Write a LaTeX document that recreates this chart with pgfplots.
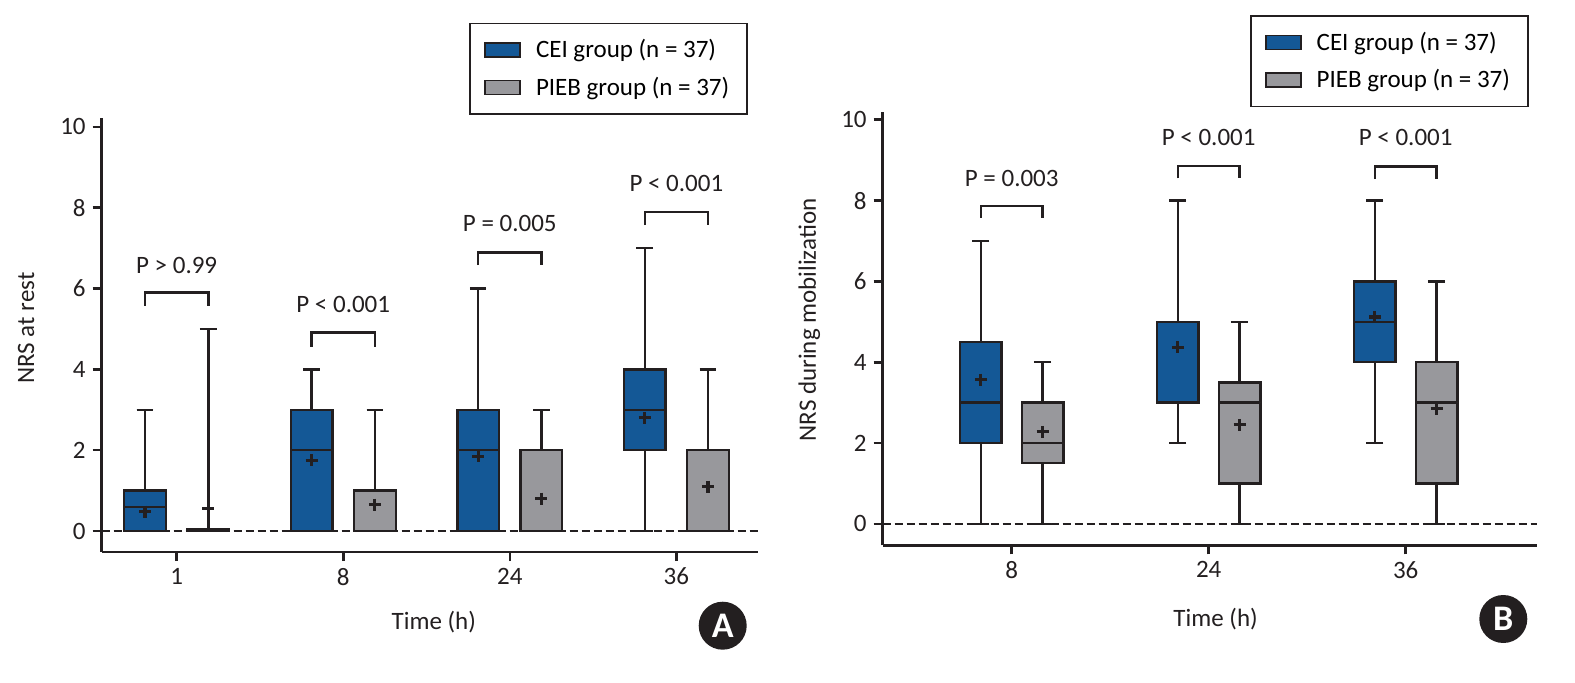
\documentclass[border=0pt]{standalone}
\usepackage{fontspec}
\setmainfont{Carlito}
\usepackage{pgfplots}
\pgfplotsset{compat=1.18}
\usepgfplotslibrary{statistics}
\definecolor{ceiblue}{RGB}{20,88,150}
\definecolor{piebgray}{RGB}{152,152,156}
\definecolor{edge}{RGB}{35,31,32}
\newcommand{\fs}{\fontsize{12.5}{15}\selectfont}
\pgfplotsset{
  ceibox/.style={fill=ceiblue, draw=edge, line width=1.2pt},
  piebbox/.style={fill=piebgray, draw=edge, line width=1.2pt},
  meanmark/.style={only marks, mark=+, mark size=3pt, line width=1.6pt, color=edge},
  panel/.style={
    scale only axis, clip=false,
    boxplot/draw direction=y,
    axis x line*=bottom, axis y line*=left,
    axis line style={-, line width=1.3pt, color=edge},
    tick align=outside, major tick length=4.5pt,
    tick style={line width=1.3pt, color=edge},
    xtick={0,1,2,3}, ytick={0,2,4,6,8,10},
    /pgf/number format/assume math mode=true,
    tick label style={font=\fs, text=edge},
    label style={font=\fs, text=edge},
    legend style={draw=edge, line width=0.9pt, font=\fs, inner xsep=7pt, inner ysep=6pt,
      row sep=4pt, cells={anchor=west}},
    legend image code/.code={\draw[#1, line width=0.9pt] (0pt,-3.5pt) rectangle (17.5pt,3.5pt);\path (23pt,0pt);},
  },
}
\newcommand{\bracket}[4]{% x1 x2 leg top
  \draw[line width=1.2pt, color=edge] (axis cs:#1,#3) -- (axis cs:#1,#4) -- (axis cs:#2,#4) -- (axis cs:#2,#3);}
\begin{document}
\begin{tikzpicture}
\useasboundingbox (0,0) rectangle (787.5pt,341pt);
% ---------------- Panel A ----------------
\begin{axis}[panel,
  at={(50.85pt,65pt)}, anchor=south west,
  width=328.15pt, height=217pt,
  xmin=-0.45, xmax=3.49, ymin=-0.52, ymax=10.22,
  xticklabels={1,8,24,36},
  xlabel={Time (h)}, ylabel={NRS at rest},
  xlabel style={at={(axis description cs:0.506,-0.161)}, anchor=center},
  ylabel style={at={(axis description cs:-0.1153,0.516)}, anchor=center},
  legend style={at={(0.985,1.2196)}, anchor=north east},
]
\addplot[dashed, dash pattern=on 4pt off 2pt, line width=0.8pt, color=edge, forget plot] coordinates {(-0.45,0) (3.49,0)};
\addlegendimage{fill=ceiblue, draw=edge}
\addlegendentry{CEI group (n = 37)}
\addlegendimage{fill=piebgray, draw=edge}
\addlegendentry{PIEB group (n = 37)}
% CEI
\addplot[ceibox, forget plot, boxplot prepared={draw position=-0.19, lower whisker=0, lower quartile=0, median=0.6, upper quartile=1, upper whisker=3, box extend=0.25, whisker extend=0.1}] coordinates {};
\addplot[ceibox, forget plot, boxplot prepared={draw position=0.81, lower whisker=0, lower quartile=0, median=2, upper quartile=3, upper whisker=4, box extend=0.25, whisker extend=0.1}] coordinates {};
\addplot[ceibox, forget plot, boxplot prepared={draw position=1.81, lower whisker=0, lower quartile=0, median=2, upper quartile=3, upper whisker=6, box extend=0.25, whisker extend=0.1}] coordinates {};
\addplot[ceibox, forget plot, boxplot prepared={draw position=2.81, lower whisker=0, lower quartile=2, median=3, upper quartile=4, upper whisker=7, box extend=0.25, whisker extend=0.1}] coordinates {};
% PIEB
\addplot[piebbox, forget plot, boxplot prepared={draw position=0.19, lower whisker=0, lower quartile=0, median=0, upper quartile=0.05, upper whisker=5, box extend=0.25, whisker extend=0.1}] coordinates {};
\addplot[piebbox, forget plot, boxplot prepared={draw position=1.19, lower whisker=0, lower quartile=0, median=0, upper quartile=1, upper whisker=3, box extend=0.25, whisker extend=0.1}] coordinates {};
\addplot[piebbox, forget plot, boxplot prepared={draw position=2.19, lower whisker=0, lower quartile=0, median=0, upper quartile=2, upper whisker=3, box extend=0.25, whisker extend=0.1}] coordinates {};
\addplot[piebbox, forget plot, boxplot prepared={draw position=3.19, lower whisker=0, lower quartile=0, median=0, upper quartile=2, upper whisker=4, box extend=0.25, whisker extend=0.1}] coordinates {};
% means
\addplot[meanmark, forget plot] coordinates {(-0.19,0.48) (0.81,1.75) (1.81,1.85) (2.81,2.8)};
\addplot[meanmark, forget plot] coordinates {(0.19,0.55) (1.19,0.65) (2.19,0.8) (3.19,1.1)};
% brackets
\bracket{-0.19}{0.19}{5.57}{5.9}
\bracket{0.81}{1.19}{4.56}{4.91}
\bracket{1.81}{2.19}{6.58}{6.89}
\bracket{2.81}{3.19}{7.57}{7.9}
\node[font=\fs, text=edge] at (axis cs:0,6.58) {P > 0.99};
\node[font=\fs, text=edge] at (axis cs:1,5.6) {P < 0.001};
\node[font=\fs, text=edge] at (axis cs:2,7.6) {P = 0.005};
\node[font=\fs, text=edge] at (axis cs:3,8.6) {P < 0.001};
\end{axis}
% ---------------- Panel B ----------------
\begin{axis}[panel,
  at={(441.35pt,68.35pt)}, anchor=south west,
  width=327pt, height=216.8pt,
  xmin=-0.655, xmax=2.665, ymin=-0.53, ymax=10.2,
  xtick={0,1,2}, xticklabels={8,24,36},
  xlabel={Time (h)}, ylabel={NRS during mobilization},
  xlabel style={at={(axis description cs:0.509,-0.1707)}, anchor=center},
  ylabel style={at={(axis description cs:-0.112,0.52)}, anchor=center},
  legend style={at={(0.988,1.223)}, anchor=north east},
]
\addplot[dashed, dash pattern=on 4pt off 2pt, line width=0.8pt, color=edge, forget plot] coordinates {(-0.655,0) (2.665,0)};
\addlegendimage{fill=ceiblue, draw=edge}
\addlegendentry{CEI group (n = 37)}
\addlegendimage{fill=piebgray, draw=edge}
\addlegendentry{PIEB group (n = 37)}
% CEI
\addplot[ceibox, forget plot, boxplot prepared={draw position=-0.157, lower whisker=0, lower quartile=2, median=3, upper quartile=4.5, upper whisker=7, box extend=0.21, whisker extend=0.088}] coordinates {};
\addplot[ceibox, forget plot, boxplot prepared={draw position=0.843, lower whisker=2, lower quartile=3, median=5, upper quartile=5, upper whisker=8, box extend=0.21, whisker extend=0.088}] coordinates {};
\addplot[ceibox, forget plot, boxplot prepared={draw position=1.843, lower whisker=2, lower quartile=4, median=5, upper quartile=6, upper whisker=8, box extend=0.21, whisker extend=0.088}] coordinates {};
% PIEB
\addplot[piebbox, forget plot, boxplot prepared={draw position=0.157, lower whisker=0, lower quartile=1.5, median=2, upper quartile=3, upper whisker=4, box extend=0.21, whisker extend=0.088}] coordinates {};
\addplot[piebbox, forget plot, boxplot prepared={draw position=1.157, lower whisker=0, lower quartile=1, median=3, upper quartile=3.5, upper whisker=5, box extend=0.21, whisker extend=0.088}] coordinates {};
\addplot[piebbox, forget plot, boxplot prepared={draw position=2.157, lower whisker=0, lower quartile=1, median=3, upper quartile=4, upper whisker=6, box extend=0.21, whisker extend=0.088}] coordinates {};
% means
\addplot[meanmark, forget plot] coordinates {(-0.157,3.57) (0.843,4.37) (1.843,5.12)};
\addplot[meanmark, forget plot] coordinates {(0.157,2.28) (1.157,2.45) (2.157,2.85)};
% brackets
\bracket{-0.157}{0.157}{7.57}{7.87}
\bracket{0.843}{1.157}{8.55}{8.86}
\bracket{1.843}{2.157}{8.53}{8.84}
\node[font=\fs, text=edge] at (axis cs:0,8.54) {P = 0.003};
\node[font=\fs, text=edge] at (axis cs:1,9.57) {P < 0.001};
\node[font=\fs, text=edge] at (axis cs:2,9.57) {P < 0.001};
\end{axis}
% panel badges
\node[circle, fill=edge, minimum size=24pt, inner sep=0pt, text=white, font=\fontsize{18}{18}\selectfont\bfseries] at (361.35pt,28.15pt) {A};
\node[circle, fill=edge, minimum size=24pt, inner sep=0pt, text=white, font=\fontsize{18}{18}\selectfont\bfseries] at (751.65pt,31.5pt) {B};
\end{tikzpicture}
\end{document}
